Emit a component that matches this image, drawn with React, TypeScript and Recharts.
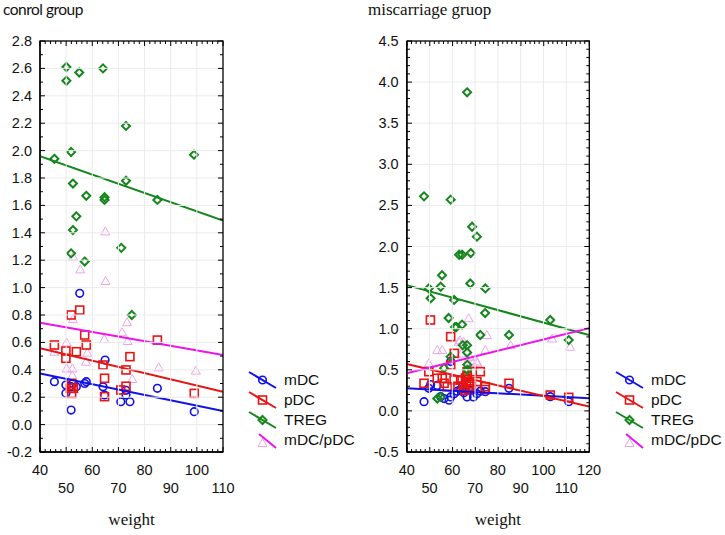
import React from 'react';
import { ScatterChart, Scatter, XAxis, YAxis, Legend } from 'recharts';

// control group: [weight, value]
const ctrlMdc = [
  [55.2, 0.958], [45.5, 0.313], [49.9, 0.289], [49.9, 0.228], [51.9, 0.106], [52.6, 0.3],
  [53.9, 0.277], [51.9, 0.277], [57.1, 0.3], [57.7, 0.313], [64.9, 0.471], [64.1, 0.277],
  [64.7, 0.216], [70.9, 0.167], [72.9, 0.216], [72.9, 0.25], [74.4, 0.167], [84.9, 0.265], [99.0, 0.094],
];
const ctrlPdc = [
  [45.5, 0.581], [49.9, 0.537], [49.9, 0.484], [51.9, 0.8], [55.2, 0.836], [53.9, 0.532],
  [57.1, 0.654], [57.7, 0.581], [52.1, 0.3], [52.8, 0.265], [52.1, 0.228], [51.6, 0.265],
  [64.1, 0.435], [64.7, 0.338], [64.7, 0.204], [70.9, 0.253], [72.9, 0.399], [72.9, 0.28],
  [74.4, 0.496], [84.9, 0.617], [99.0, 0.228],
];
const ctrlTreg = [
  [45.5, 1.94], [50.1, 2.61], [50.1, 2.51], [55.0, 2.57], [64.1, 2.6], [72.9, 2.18], [51.9, 1.99],
  [98.9, 1.97], [52.6, 1.76], [72.9, 1.78], [57.7, 1.67], [64.7, 1.66], [64.7, 1.64], [84.9, 1.64],
  [53.9, 1.52], [52.6, 1.42], [71.1, 1.29], [51.9, 1.25], [57.1, 1.19], [75.1, 0.8],
];
const ctrlRatio = [
  [65.1, 1.048], [55.4, 1.133], [52.6, 0.77], [45.5, 0.532], [50.2, 0.6], [50.2, 0.41], [52.4, 0.41],
  [52.4, 0.36], [58.1, 0.525], [57.6, 0.459], [64.6, 0.625], [71.4, 0.674], [73.3, 0.747], [73.5, 0.61],
  [75.3, 0.333], [85.4, 0.418], [99.6, 0.394], [65.0, 1.41], [52.7, 1.226],
];
const ctrlFitMdc = [[40, 0.374], [110, 0.099]];
const ctrlFitPdc = [[40, 0.557], [110, 0.24]];
const ctrlFitTreg = [[40, 1.96], [110, 1.49]];
const ctrlFitRatio = [[40, 0.744], [110, 0.508]];

// miscarriage group
const mcMdc = [
  [47.6, 0.112], [49.7, 0.275], [50.5, 0.32], [53.4, 0.31], [54.9, 0.173], [56.4, 0.15], [58.6, 0.13],
  [59.3, 0.17], [60.8, 0.21], [59.3, 0.6], [62.2, 0.24], [63.7, 0.26], [65.1, 0.22], [66.5, 0.17],
  [67.9, 0.25], [69.3, 0.17], [70.8, 0.21], [72.3, 0.24], [74.5, 0.234], [84.9, 0.275], [103.0, 0.173],
  [111.1, 0.112], [64.5, 0.3], [66.0, 0.28],
];
const mcPdc = [
  [50.4, 1.106], [59.3, 0.903], [60.9, 0.7], [59.3, 0.558], [49.7, 0.477], [47.6, 0.336], [53.4, 0.397],
  [55.6, 0.397], [56.4, 0.336], [57.8, 0.295], [60.8, 0.376], [63.7, 0.376], [64.8, 0.3], [65.5, 0.25],
  [66.2, 0.36], [67.0, 0.27], [67.7, 0.33], [68.4, 0.3], [68.7, 0.477], [72.3, 0.477], [70.8, 0.356],
  [74.5, 0.295], [74.5, 0.26], [84.9, 0.336], [103.0, 0.193], [111.1, 0.165], [66.5, 0.477], [66.6, 0.42],
  [62.5, 0.3], [65.8, 0.4],
];
const mcTreg = [
  [66.5, 3.876], [47.6, 2.61], [59.3, 2.57], [68.7, 2.24], [70.8, 2.12], [63.0, 1.9], [64.3, 1.9],
  [68.1, 1.92], [55.5, 1.65], [49.7, 1.49], [54.9, 1.51], [50.5, 1.37], [67.9, 1.55], [74.5, 1.49],
  [60.8, 1.35], [74.4, 1.19], [58.4, 1.13], [61.2, 1.02], [61.8, 1.02], [64.3, 1.05], [72.3, 0.923],
  [84.9, 0.923], [103.0, 1.106], [111.1, 0.862], [66.5, 0.8], [64.6, 0.8], [66.5, 0.71], [66.6, 0.56],
  [59.3, 0.66], [56.4, 0.52], [66.6, 0.5], [53.4, 0.15], [54.9, 0.17],
];
const mcRatio = [
  [67.2, 1.127], [62.8, 0.84], [65.0, 0.84], [53.4, 0.74], [55.6, 0.74], [49.7, 0.58], [67.9, 0.66],
  [70.8, 0.6], [75.2, 0.923], [74.5, 0.74], [85.6, 0.8], [103.8, 0.88], [111.7, 0.78], [63.4, 0.86],
  [59.3, 0.64], [65.6, 0.8], [71.0, 0.58], [69.0, 0.58], [64.0, 0.7], [66.5, 0.6],
];
const mcFitMdc = [[40, 0.275], [120, 0.155]];
const mcFitPdc = [[40, 0.57], [120, 0.052]];
const mcFitTreg = [[40, 1.53], [120, 0.923]];
const mcFitRatio = [[40, 0.457], [120, 1.005]];

// tick labels
const ctrlXTicks = [40, 50, 60, 70, 80, 90, 100, 110];
const ctrlYTicks = [-0.2, 0, 0.2, 0.4, 0.6, 0.8, 1.0, 1.2, 1.4, 1.6, 1.8, 2.0, 2.2, 2.4, 2.6, 2.8];
const mcXTicks = [40, 50, 60, 70, 80, 90, 100, 110, 120];
const mcYTicks = [-0.5, 0, 0.5, 1.0, 1.5, 2.0, 2.5, 3.0, 3.5, 4.0, 4.5];
const seriesNames = ['mDC', 'pDC', 'TREG', 'mDC/pDC'];

const BLUE = '#1010e8';
const RED = '#e81414';
const GREEN = '#14861c';
const MAGENTA = '#ee12ee';
const PINK = '#eaa4ea';
const GRID = '#ebebeb';
const SANS = "'Liberation Sans', Arial, sans-serif";
const SERIF = "'Liberation Serif', 'Times New Roman', serif";
const CHART_H = 535;
const X_AXIS_H = 83;
const PLOT_TOP = 41;

const toPts = (a: number[][]) => a.map(([x, y]) => ({ x, y }));

const withMinor = (major: number[], parts: number) => {
  const out: number[] = [];
  for (let i = 0; i < major.length - 1; i++) {
    for (let k = 0; k < parts; k++) {
      out.push(+(major[i] + ((major[i + 1] - major[i]) * k) / parts).toFixed(4));
    }
  }
  out.push(major[major.length - 1]);
  return out;
};
const findMajor = (v: number, arr: number[]) => arr.findIndex((m) => Math.abs(m - v) < 1e-6);
const isInner = (idx: number, arr: number[]) => idx > 0 && idx < arr.length - 1;

// left axis: labels and horizontal grid
const leftTick = (major: number[], plotW: number) => (p: any) => {
  const v = p.payload.value;
  const idx = findMajor(v, major);
  return (
    <g>
      {isInner(idx, major) && <line x1={p.x + 1} x2={p.x + plotW - 1} y1={p.y} y2={p.y} stroke={GRID} />}
      {idx >= 0 && (
        <text x={p.x - 8} y={p.y + 5} textAnchor="end" fontSize={14.5} fontFamily={SANS} fill="#111">
          {v.toFixed(1)}
        </text>
      )}
    </g>
  );
};
// bottom axis: two-row labels and vertical grid
const bottomTick = (major: number[], plotH: number) => (p: any) => {
  const v = p.payload.value;
  const idx = findMajor(v, major);
  return (
    <g>
      {isInner(idx, major) && <line x1={p.x} x2={p.x} y1={p.y - 1} y2={p.y - plotH + 1} stroke={GRID} />}
      {idx >= 0 && (
        <text x={p.x} y={p.y + (idx % 2 === 0 ? 23 : 41)} textAnchor="middle" fontSize={14.5} fontFamily={SANS} fill="#111">
          {v}
        </text>
      )}
    </g>
  );
};

const CircleMark = (p: any) => (
  <circle cx={p.cx} cy={p.cy} r={3.8} fill="none" stroke={BLUE} strokeWidth={1.6} />
);
const SquareMark = (p: any) => (
  <rect x={p.cx - 4} y={p.cy - 4} width={8} height={8} fill="none" stroke={RED} strokeWidth={1.6} />
);
const DiamondMark = (p: any) => (
  <polygon
    points={`${p.cx},${p.cy - 4} ${p.cx + 4},${p.cy} ${p.cx},${p.cy + 4} ${p.cx - 4},${p.cy}`}
    fill="none"
    stroke={GREEN}
    strokeWidth={2}
  />
);
const TriangleMark = (p: any) => (
  <polygon
    points={`${p.cx},${p.cy - 4.5} ${p.cx + 4.5},${p.cy + 3.5} ${p.cx - 4.5},${p.cy + 3.5}`}
    fill="none"
    stroke={PINK}
    strokeWidth={1}
  />
);
const NoMark = () => <g />;

const LegendBox = () => (
  <svg width={104} height={90} style={{ display: 'block', overflow: 'visible' }}>
    {seriesNames.map((name, i) => {
      const cy = 8 + i * 20;
      const cx = 13.5;
      return (
        <g key={name}>
          {i === 0 && <line x1={0} y1={cy - 8} x2={27} y2={cy + 8} stroke={BLUE} strokeWidth={2} />}
          {i === 0 && <CircleMark cx={cx} cy={cy} />}
          {i === 1 && <line x1={0} y1={cy - 8} x2={27} y2={cy + 8} stroke={RED} strokeWidth={2} />}
          {i === 1 && <SquareMark cx={cx} cy={cy} />}
          {i === 2 && <line x1={0} y1={cy - 8} x2={27} y2={cy + 8} stroke={GREEN} strokeWidth={2} />}
          {i === 2 && <DiamondMark cx={cx} cy={cy} />}
          {i === 3 && <TriangleMark cx={cx} cy={cy + 3} />}
          {i === 3 && <line x1={10} y1={cy - 6} x2={27} y2={cy + 8} stroke={MAGENTA} strokeWidth={2} />}
          <text x={35} y={cy + 5} fontSize={15.5} fontFamily={SANS} fill="#111">
            {name}
          </text>
        </g>
      );
    })}
  </svg>
);

// black box with inward ticks on all four sides, laid over the plot area
type FrameProps = { left: number; w: number; h: number; xTicks: number[]; yTicks: number[]; yParts: number };
const Frame = ({ left, w, h, xTicks, yTicks, yParts }: FrameProps) => {
  const x0 = xTicks[0];
  const x1 = xTicks[xTicks.length - 1];
  const y0 = yTicks[0];
  const y1 = yTicks[yTicks.length - 1];
  const px = (v: number) => ((v - x0) / (x1 - x0)) * w;
  const py = (v: number) => h - ((v - y0) / (y1 - y0)) * h;
  return (
    <svg
      width={w + 4}
      height={h + 4}
      style={{ position: 'absolute', left: left - 2, top: PLOT_TOP - 2, zIndex: 10, pointerEvents: 'none', overflow: 'visible' }}
    >
      <g transform="translate(2,2)">
        <rect x={0} y={0} width={w} height={h} fill="none" stroke="#000" strokeWidth={1.3} />
        {withMinor(xTicks, 5).map((v) => {
          const len = findMajor(v, xTicks) >= 0 ? 5 : 3;
          const x = px(v);
          return (
            <g key={'x' + v}>
              <line x1={x} x2={x} y1={h} y2={h - len} stroke="#000" />
              <line x1={x} x2={x} y1={0} y2={len} stroke="#000" />
            </g>
          );
        })}
        {withMinor(yTicks, yParts).map((v) => {
          const len = findMajor(v, yTicks) >= 0 ? 5 : 3;
          const y = py(v);
          return (
            <g key={'y' + v}>
              <line x1={0} x2={len} y1={y} y2={y} stroke="#000" />
              <line x1={w} x2={w - len} y1={y} y2={y} stroke="#000" />
            </g>
          );
        })}
      </g>
    </svg>
  );
};

type PanelProps = {
  width: number;
  margin: { top: number; right: number; bottom: number; left: number };
  yWidth: number;
  xTicks: number[];
  yTicks: number[];
  yParts: number;
  sets: number[][][];
  fits: number[][][];
  legendLeft: number;
};

const Panel = ({ width, margin, yWidth, xTicks, yTicks, yParts, sets, fits, legendLeft }: PanelProps) => {
  const xDomain = [xTicks[0], xTicks[xTicks.length - 1]];
  const yDomain = [yTicks[0], yTicks[yTicks.length - 1]];
  const xAll = withMinor(xTicks, 5);
  const yAll = withMinor(yTicks, yParts);
  const plotW = width - margin.left - margin.right - yWidth;
  const plotH = CHART_H - margin.top - margin.bottom - X_AXIS_H;
  const marks = [CircleMark, SquareMark, DiamondMark];
  const lineColors = [BLUE, RED, GREEN, MAGENTA];
  return (
    <div style={{ position: 'relative', width, height: CHART_H }}>
      <ScatterChart width={width} height={CHART_H} margin={margin}>
        <XAxis
          type="number"
          dataKey="x"
          domain={xDomain}
          allowDataOverflow
          ticks={xAll}
          interval={0}
          tickSize={0}
          tickMargin={0}
          tickLine={false}
          tick={bottomTick(xTicks, plotH)}
          axisLine={{ stroke: '#000', strokeWidth: 1.3 }}
          height={X_AXIS_H}
          label={{ value: 'weight', position: 'insideBottom', offset: 10, style: { fontFamily: SERIF, fontSize: 17, fill: '#111' } }}
        />
        <YAxis
          type="number"
          dataKey="y"
          domain={yDomain}
          allowDataOverflow
          ticks={yAll}
          interval={0}
          tickSize={0}
          tickMargin={0}
          tickLine={false}
          tick={leftTick(yTicks, plotW)}
          axisLine={{ stroke: '#000', strokeWidth: 1.3 }}
          width={yWidth}
        />
        <Scatter name={seriesNames[3]} data={toPts(sets[3])} shape={TriangleMark} isAnimationActive={false} />
        {[0, 1, 2].map((i) => (
          <Scatter key={i} name={seriesNames[i]} data={toPts(sets[i])} shape={marks[i]} isAnimationActive={false} />
        ))}
        {fits.map((f, i) => (
          <Scatter
            key={'fit' + i}
            data={toPts(f)}
            line={{ stroke: lineColors[i], strokeWidth: 2 }}
            shape={NoMark}
            legendType="none"
            isAnimationActive={false}
          />
        ))}
        <Legend
          layout="vertical"
          align="center"
          verticalAlign="middle"
          content={() => <LegendBox />}
          wrapperStyle={{ left: legendLeft, top: 372, width: 104, height: 90 }}
        />
      </ScatterChart>
      <Frame left={margin.left + yWidth} w={plotW} h={plotH} xTicks={xTicks} yTicks={yTicks} yParts={yParts} />
    </div>
  );
};

export default function App() {
  return (
    <div style={{ position: 'absolute', left: 0, top: 0, width: 725, height: 535, background: '#fff', overflow: 'hidden' }}>
      <div
        style={{
          position: 'absolute', left: 3, top: -1, fontFamily: "Lato, 'Open Sans', sans-serif",
          fontSize: 15.5, letterSpacing: -0.5, color: '#111', lineHeight: '20px', whiteSpace: 'nowrap',
        }}
      >
        conrol group
      </div>
      <div
        style={{
          position: 'absolute', left: 368, top: 0, fontFamily: SERIF, fontSize: 17, color: '#111',
          lineHeight: '20px', whiteSpace: 'nowrap',
        }}
      >
        miscarriage gruop
      </div>
      <div style={{ position: 'absolute', left: 0, top: 0 }}>
        <Panel
          width={362}
          margin={{ top: PLOT_TOP, right: 139, bottom: 0, left: 5 }}
          yWidth={35}
          xTicks={ctrlXTicks}
          yTicks={ctrlYTicks}
          yParts={2}
          sets={[ctrlMdc, ctrlPdc, ctrlTreg, ctrlRatio]}
          fits={[ctrlFitMdc, ctrlFitPdc, ctrlFitTreg, ctrlFitRatio]}
          legendLeft={249}
        />
      </div>
      <div style={{ position: 'absolute', left: 365, top: 0 }}>
        <Panel
          width={358}
          margin={{ top: PLOT_TOP, right: 134, bottom: 0, left: 5.7 }}
          yWidth={36}
          xTicks={mcXTicks}
          yTicks={mcYTicks}
          yParts={5}
          sets={[mcMdc, mcPdc, mcTreg, mcRatio]}
          fits={[mcFitMdc, mcFitPdc, mcFitTreg, mcFitRatio]}
          legendLeft={251}
        />
      </div>
    </div>
  );
}
